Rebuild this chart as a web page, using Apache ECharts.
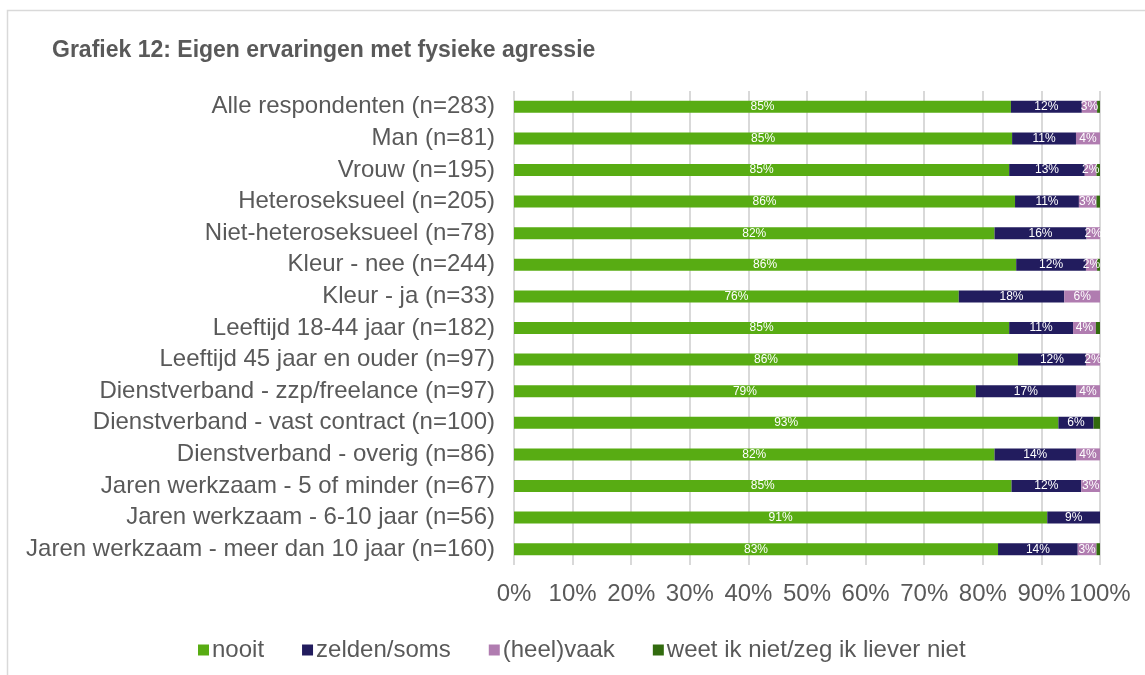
<!DOCTYPE html>
<html>
<head>
<meta charset="utf-8">
<script src="https://cdn.jsdelivr.net/npm/echarts@6/dist/echarts.min.js"></script>
<style>
  html, body { margin: 0; padding: 0; background: #fff; }
  #main { width: 1145px; height: 675px; }
</style>
</head>
<body>
<div id="main"></div>
<script>
// categorieen en waarden (percentages per groep)
var categories = [
  'Alle respondenten (n=283)',
  'Man (n=81)',
  'Vrouw (n=195)',
  'Heteroseksueel (n=205)',
  'Niet-heteroseksueel (n=78)',
  'Kleur - nee (n=244)',
  'Kleur - ja (n=33)',
  'Leeftijd 18-44 jaar (n=182)',
  'Leeftijd 45 jaar en ouder (n=97)',
  'Dienstverband - zzp/freelance (n=97)',
  'Dienstverband - vast contract (n=100)',
  'Dienstverband - overig (n=86)',
  'Jaren werkzaam - 5 of minder (n=67)',
  'Jaren werkzaam - 6-10 jaar (n=56)',
  'Jaren werkzaam - meer dan 10 jaar (n=160)'
];
var nooit    = [84.8, 85.0, 84.5, 85.5, 82.0, 85.7, 75.9, 84.5, 86.0, 78.8, 92.9, 82.0, 84.9, 91.0, 82.6];
var zelden   = [12.1, 10.9, 12.9, 10.9, 15.7, 11.9, 18.0, 10.9, 11.6, 17.1, 6.0, 13.9, 11.9, 9.0, 13.6];
var vaak     = [2.6, 4.1, 2.0, 3.0, 2.3, 1.9, 6.1, 3.9, 2.4, 4.1, 0, 4.1, 3.2, 0, 3.2];
var weetNiet = [0.5, 0, 0.6, 0.6, 0, 0.5, 0, 0.7, 0, 0, 1.1, 0, 0, 0, 0.6];
var xTicks = [0, 10, 20, 30, 40, 50, 60, 70, 80, 90, 100];

var myChart = echarts.init(document.getElementById('main'));

var fontFam = '"Liberation Sans", Arial, sans-serif';
var barLabel = {
  show: true,
  position: 'inside',
  color: '#fff',
  fontSize: 12,
  fontFamily: fontFam,
  formatter: function (p) { return p.value < 1.5 ? '' : Math.round(p.value) + '%'; }
};

var option = {
  backgroundColor: '#fff',
  title: {
    text: 'Grafiek 12: Eigen ervaringen met fysieke agressie',
    left: 47,
    top: 34,
    textStyle: { fontSize: 23, fontWeight: 'bold', color: '#595959', fontFamily: fontFam }
  },
  graphic: [{
    type: 'rect',
    shape: { x: 7.5, y: 10.5, width: 1200, height: 700 },
    style: { fill: 'none', stroke: '#d9d9d9', lineWidth: 1.5 },
    silent: true
  }],
  legend: {
    left: 193,
    top: 633,
    icon: 'rect',
    itemWidth: 11,
    itemHeight: 11,
    itemGap: 38,
    textStyle: { fontSize: 24, color: '#595959', fontFamily: fontFam, padding: [0, 0, 0, -2] },
    data: ['nooit', 'zelden/soms', '(heel)vaak', 'weet ik niet/zeg ik liever niet']
  },
  grid: { left: 514, right: 45, top: 91, bottom: 110, containLabel: false },
  xAxis: {
    type: 'value',
    min: xTicks[0],
    max: xTicks[xTicks.length - 1],
    interval: 10,
    axisLine: { show: false },
    axisTick: { show: false },
    splitLine: { lineStyle: { color: '#d9d9d9', width: 2 } },
    axisLabel: {
      formatter: '{value}%',
      fontSize: 24,
      color: '#595959',
      fontFamily: fontFam,
      margin: 17
    }
  },
  yAxis: {
    type: 'category',
    inverse: true,
    data: categories,
    axisLine: { show: false },
    axisTick: { show: false },
    axisLabel: { fontSize: 24, color: '#595959', fontFamily: fontFam, margin: 19 }
  },
  series: [
    { name: 'nooit', type: 'bar', stack: 'totaal', barWidth: 12, data: nooit,
      itemStyle: { color: '#58ac13' }, label: barLabel },
    { name: 'zelden/soms', type: 'bar', stack: 'totaal', barWidth: 12, data: zelden,
      itemStyle: { color: '#221c5e' }, label: barLabel },
    { name: '(heel)vaak', type: 'bar', stack: 'totaal', barWidth: 12, data: vaak,
      itemStyle: { color: '#b07cb0' }, label: barLabel },
    { name: 'weet ik niet/zeg ik liever niet', type: 'bar', stack: 'totaal', barWidth: 12, data: weetNiet,
      itemStyle: { color: '#326b0e' }, label: { show: false } }
  ]
};

myChart.setOption(option);
</script>
</body>
</html>
